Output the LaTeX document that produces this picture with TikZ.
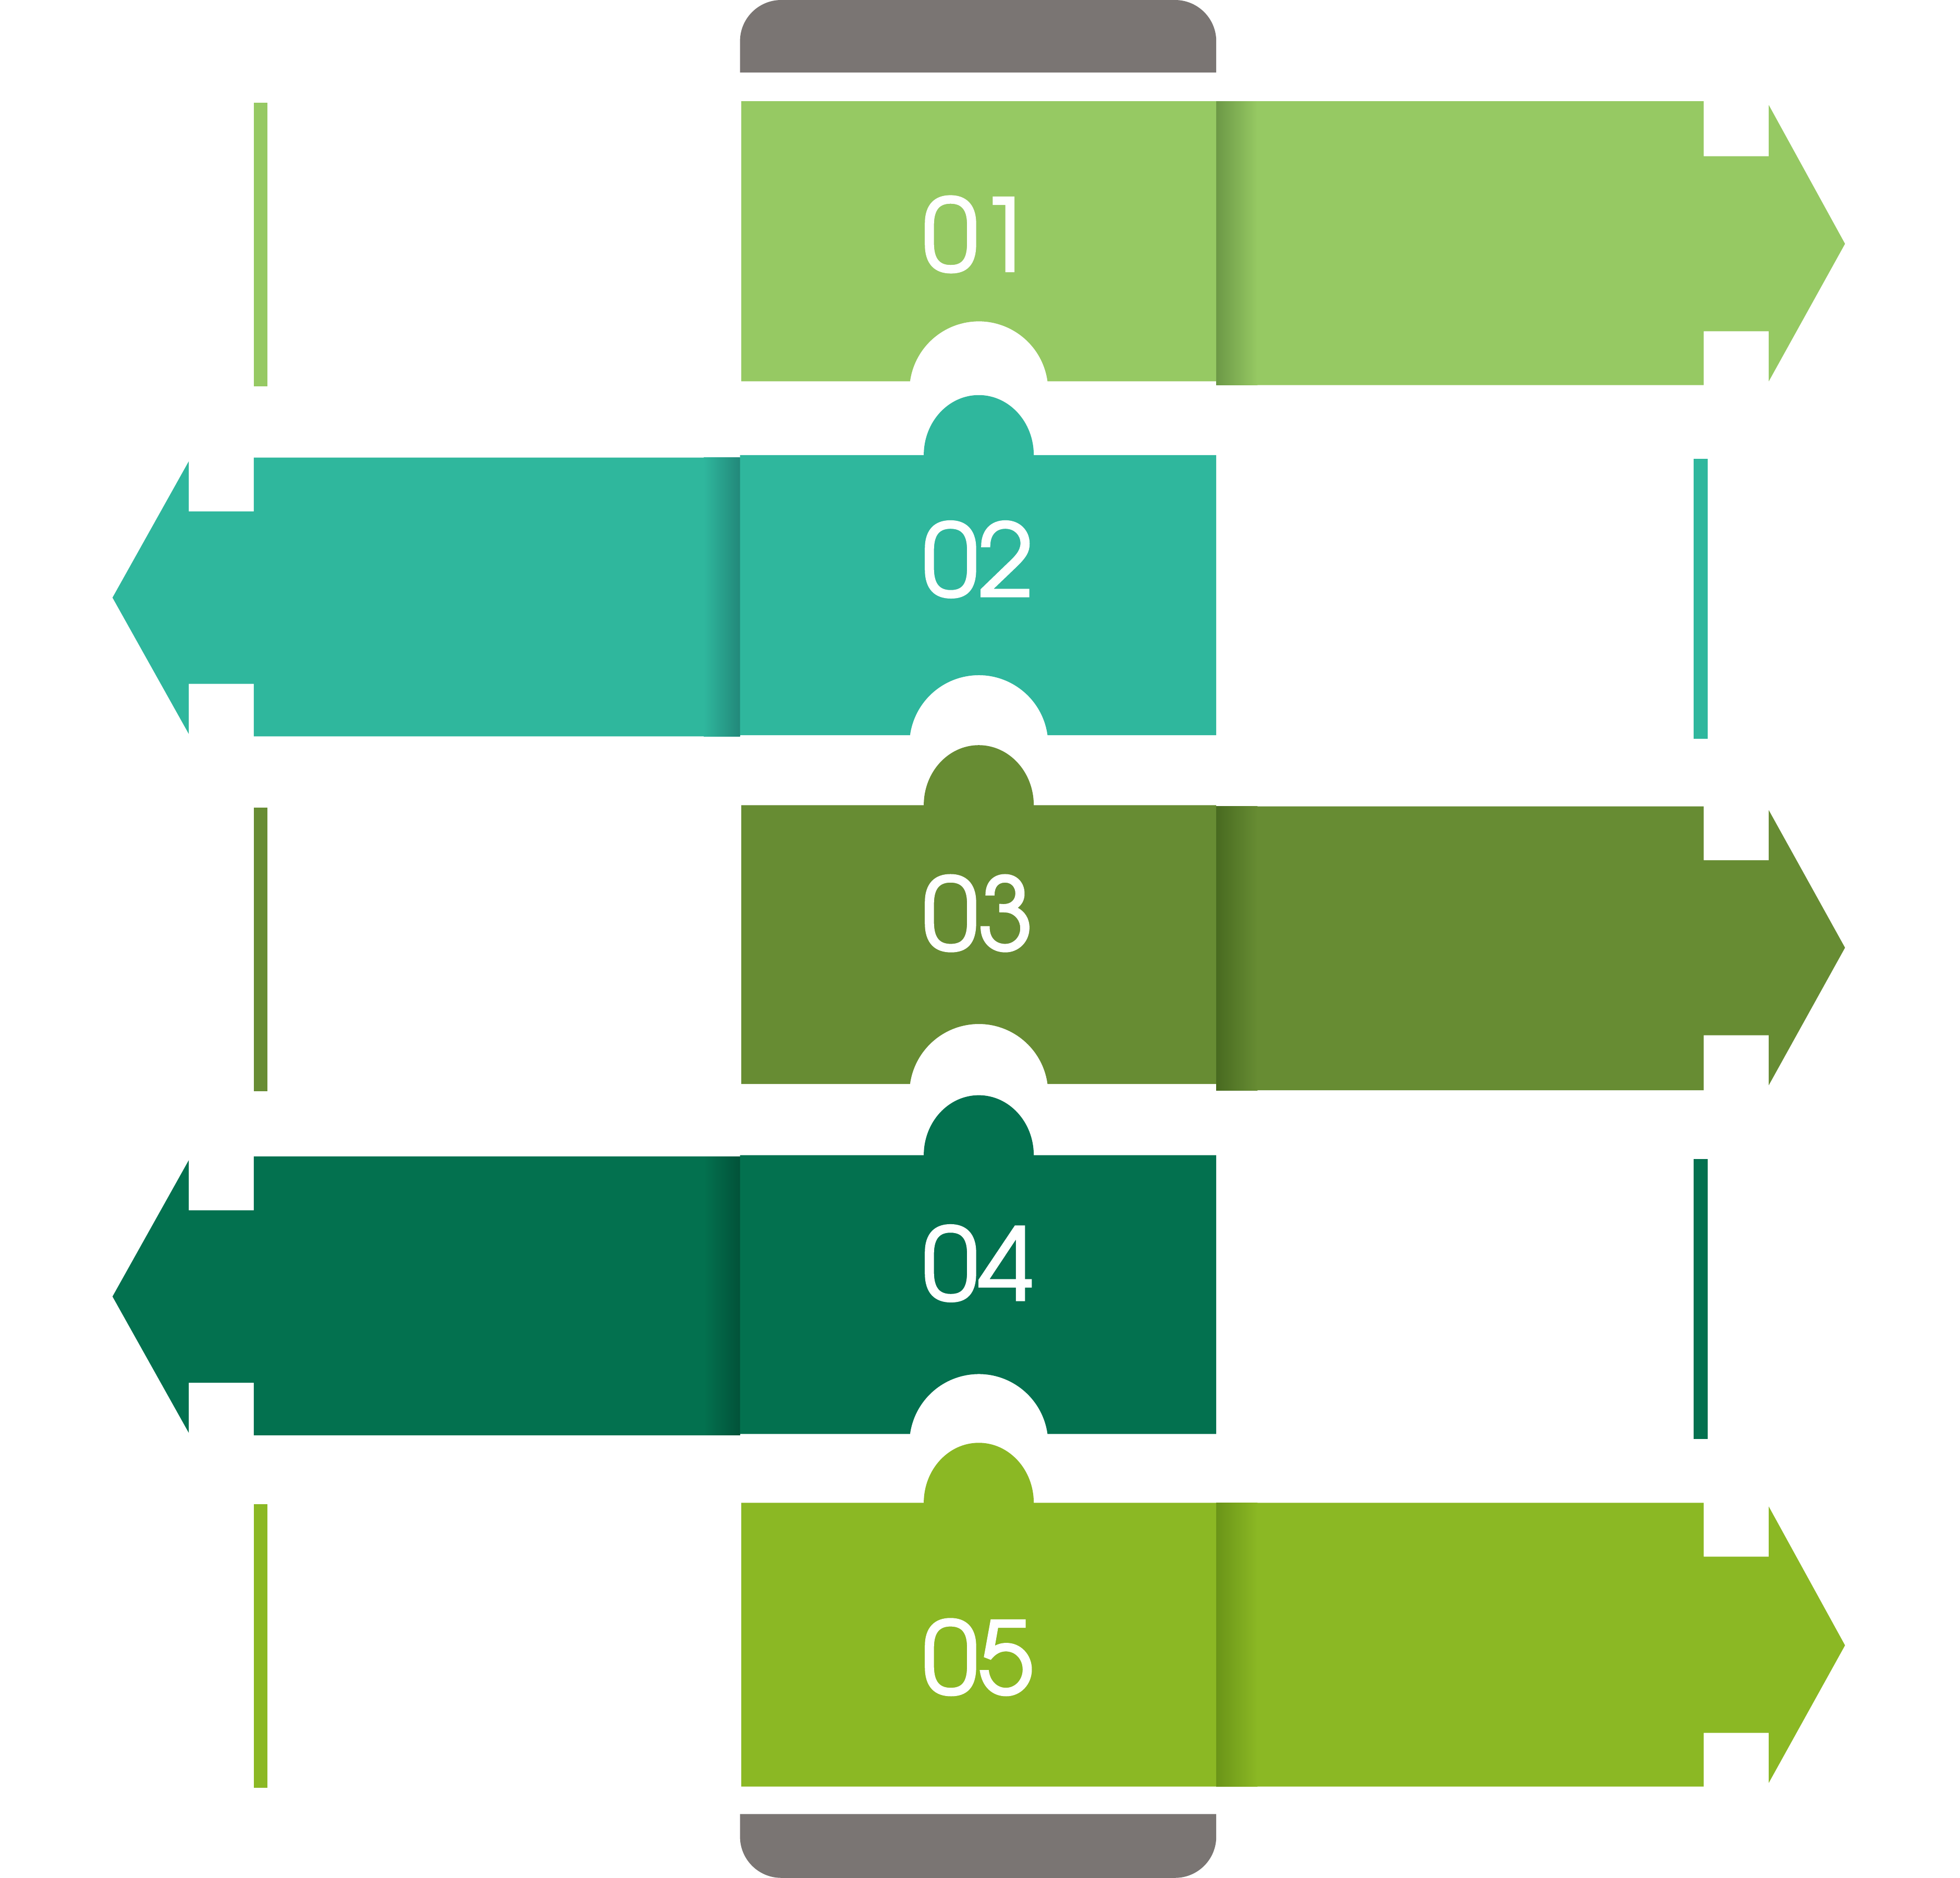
\documentclass[tikz,border=0pt]{standalone}
\usepackage{fontspec}
\newfontfamily\numfont[FakeBold=1.8]{texgyreadventor-regular.otf}
\definecolor{cA}{RGB}{150,201,99}
\definecolor{cAd}{RGB}{108,152,70}
\definecolor{cB}{RGB}{47,183,157}
\definecolor{cBd}{RGB}{34,136,122}
\definecolor{cC}{RGB}{103,140,51}
\definecolor{cCd}{RGB}{72,106,32}
\definecolor{cD}{RGB}{3,113,79}
\definecolor{cDd}{RGB}{2,82,57}
\definecolor{cE}{RGB}{139,184,36}
\definecolor{cEd}{RGB}{106,148,24}
\definecolor{capgray}{RGB}{122,117,115}
\tikzset{
  num/.style={text=white, font=\bfseries\numfont\fontsize{80}{80}\selectfont, inner sep=0pt, anchor=base west},
}
\begin{document}
\begin{tikzpicture}[x=1pt,y=-1pt]
\useasboundingbox (0,0) rectangle (1568,1501.7);
% caps
\fill[capgray] (592,58) -- (592,33) arc[start angle=180,end angle=270,radius=33] -- (940,0) arc[start angle=270,end angle=360,radius=33] -- (973,58) -- cycle;
\fill[capgray] (592,1451) -- (592,1469) arc[start angle=180,end angle=90,radius=33] -- (940,1502) arc[start angle=90,end angle=0,radius=33] -- (973,1451) -- cycle;
% ---------- row 1
\fill[cA] (973,81) -- (1363,81) -- (1363,125) -- (1415,125) -- (1415,84) -- (1476,195) -- (1415,305) -- (1415,265) -- (1363,265) -- (1363,308) -- (973,308) -- cycle;
\shade[left color=cAd, right color=cA] (973,81) rectangle (1006,308);
\fill[cA] (593,81) -- (973,81) -- (973,305) -- (838,305) arc[start angle=352.2,end angle=187.8,radius=55.5] -- (593,305) -- cycle;
\fill[cA] (203,82) rectangle (214,309);
\node[num] (n1) at (738,217) {01};
% ---------- row 2
\fill[cB] (592,366) -- (203,366) -- (203,409) -- (151,409) -- (151,369) -- (90,478) -- (151,587) -- (151,547) -- (203,547) -- (203,589) -- (592,589) -- cycle;
\shade[left color=cB, right color=cBd] (563,366) rectangle (592,589);
\fill[cB] (592,364) -- (739,364) arc[start angle=180,end angle=360,x radius=44,y radius=48] -- (973,364) -- (973,588) -- (838,588) arc[start angle=352.2,end angle=187.8,radius=55.5] -- (592,588) -- cycle;
\fill[cB] (1355,367) rectangle (1366,591);
\node[num] (n2) at (738,477) {02};
% ---------- row 3
\fill[cC] (973,645) -- (1363,645) -- (1363,688) -- (1415,688) -- (1415,648) -- (1476,758) -- (1415,868) -- (1415,828) -- (1363,828) -- (1363,872) -- (973,872) -- cycle;
\shade[left color=cCd, right color=cC] (973,645) rectangle (1006,872);
\fill[cC] (593,644) -- (739,644) arc[start angle=180,end angle=360,x radius=44,y radius=48] -- (973,644) -- (973,867) -- (838,867) arc[start angle=352.2,end angle=187.8,radius=55.5] -- (593,867) -- cycle;
\fill[cC] (203,646) rectangle (214,873);
\node[num] (n3) at (738,760) {03};
% ---------- row 4
\fill[cD] (592,925) -- (203,925) -- (203,968) -- (151,968) -- (151,928) -- (90,1037) -- (151,1146) -- (151,1106) -- (203,1106) -- (203,1148) -- (592,1148) -- cycle;
\shade[left color=cD, right color=cDd] (563,925) rectangle (592,1148);
\fill[cD] (592,924) -- (739,924) arc[start angle=180,end angle=360,x radius=44,y radius=48] -- (973,924) -- (973,1147) -- (838,1147) arc[start angle=352.2,end angle=187.8,radius=55.5] -- (592,1147) -- cycle;
\fill[cD] (1355,927) rectangle (1366,1151);
\node[num] (n4) at (738,1040) {04};
% ---------- row 5
\fill[cE] (973,1202) -- (1363,1202) -- (1363,1245) -- (1415,1245) -- (1415,1205) -- (1476,1316) -- (1415,1426) -- (1415,1386) -- (1363,1386) -- (1363,1429) -- (973,1429) -- cycle;
\shade[left color=cEd, right color=cE] (973,1202) rectangle (1006,1429);
\fill[cE] (593,1202) -- (739,1202) arc[start angle=180,end angle=360,x radius=44,y radius=48] -- (973,1202) -- (973,1429) -- (593,1429) -- cycle;
\fill[cE] (203,1203) rectangle (214,1430);
\node[num] (n5) at (738,1355) {05};
\end{tikzpicture}
\end{document}
